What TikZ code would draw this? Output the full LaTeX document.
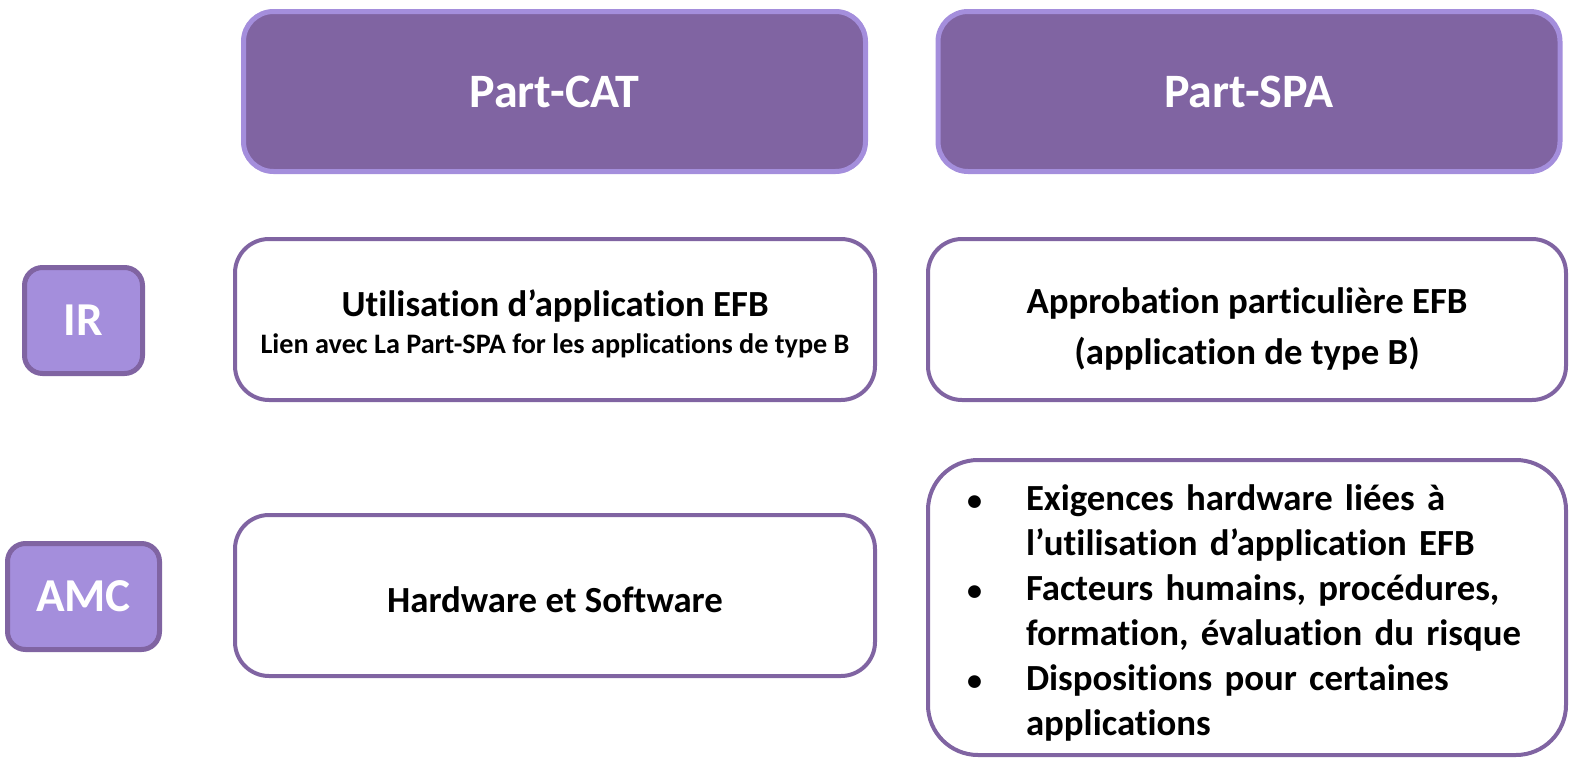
\documentclass[tikz,border=0pt]{standalone}
\usepackage{fontspec}
\setmainfont[Ligatures={NoCommon}]{Carlito}

\definecolor{partviolet}{HTML}{8064A2}
\definecolor{lilas}{HTML}{A48EDC}

\newcommand{\puce}{\makebox[32pt][l]{\hspace*{2.5pt}{\fontsize{15}{15}\selectfont\textbullet}}}
\newcommand{\suite}{\hspace*{32pt}}

\begin{document}
\begin{tikzpicture}[x=0.5pt, y={(0pt,-0.5pt)},
        partbox/.style={rounded corners=15pt, fill=partviolet, draw=lilas,
            line width=2.5pt, text=white, minimum width=311pt, minimum height=80pt,
            font=\fontsize{24}{28}\selectfont\bfseries},
        levelbox/.style={rounded corners=9pt, fill=lilas, draw=partviolet,
            line width=2.5pt, text=white, minimum height=53pt,
            font=\fontsize{23.6}{28}\selectfont\bfseries},
        rulebox/.style={rounded corners=17pt, fill=white, draw=partviolet,
            line width=2pt, minimum width=320pt, minimum height=80.5pt,
            font=\fontsize{18.4}{22.5}\selectfont\bfseries, align=center,
            text height=17pt}]

        \useasboundingbox (0,0) rectangle (1575,760);

        % column headers
        \node[partbox] (cat) at (554.5,91.5) {Part-CAT};
        \node[partbox] (spa) at (1249,91.5) {Part-SPA};

        % row labels
        \node[levelbox, minimum width=59pt] (ir) at (83.5,320.5) {IR};
        \node[levelbox, minimum width=76pt] (amc) at (83.5,596.5) {AMC};

        % IR row
        \node[rulebox, text height=36.5pt, font=\fontsize{14.1}{18.5}\selectfont\bfseries]
            (ircat) at (555,319.5)
            {{\fontsize{18.4}{22.5}\selectfont Utilisation d’application EFB}\\
             Lien avec La Part-SPA for les applications de type B};
        \node[rulebox, minimum width=319pt, text height=47.5pt,
            font=\fontsize{18.4}{25.5}\selectfont\bfseries] (irspa) at (1247,319.5)
            {Approbation particulière EFB\\(application de type B)};

        % AMC row
        \node[rulebox] (amccat) at (555,595.5) {Hardware et Software};
        \node[rulebox, rounded corners=25pt, minimum width=319pt, minimum height=147.5pt,
            text width=285pt, align=left, text height=18.5pt] (amcspa) at (1247,607.5)
            {\puce Exigences hardware liées à\\
             \suite l’utilisation d’application EFB\\
             \puce Facteurs humains, procédures,\\
             \suite formation, évaluation du risque\\
             \puce Dispositions pour certaines\\
             \suite applications};
    \end{tikzpicture}
\end{document}
